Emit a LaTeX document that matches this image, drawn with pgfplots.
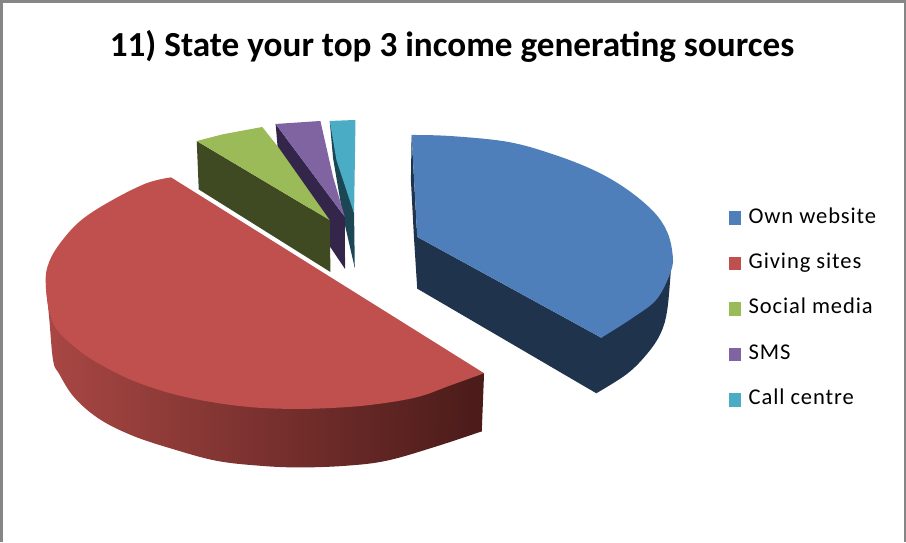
\documentclass[border=0pt]{standalone}
\usepackage{fontspec}
\setmainfont{Carlito}
\usepackage{pgfplots}
\pgfplotsset{compat=1.18}

\definecolor{ownTop}{HTML}{4E7FBB}
\definecolor{ownSide}{HTML}{1F344C}
\definecolor{givingTop}{HTML}{BF504D}
\definecolor{givingSideA}{HTML}{A94744}
\definecolor{givingSideB}{HTML}{6E2C2A}
\definecolor{givingSideC}{HTML}{4A1B19}
\definecolor{socialTop}{HTML}{9BBB59}
\definecolor{socialSide}{HTML}{3F4A23}
\definecolor{smsTop}{HTML}{8064A2}
\definecolor{smsSide}{HTML}{33264A}
\definecolor{callTop}{HTML}{4BACC6}
\definecolor{callSide}{HTML}{1C4654}
\definecolor{frameGrey}{HTML}{868686}

\pgfplotsset{giving wall/.style={forget plot, draw=none, left color=givingSideA,
  middle color=givingSideB, right color=givingSideC}}

\begin{document}
\begin{tikzpicture}
\begin{axis}[
  scale only axis, width=906bp, height=543bp,
  xmin=-1, xmax=905, ymin=-1.5, ymax=541.5, y dir=reverse,
  hide axis,
  every axis title shift=0pt,
  title={\fontsize{35.1bp}{40bp}\selectfont\bfseries 11) State your top 3 income generating sources},
  title style={at={(axis description cs:0.5,0.912)}, anchor=center, inner sep=0pt},
  legend image code/.code={\fill[#1] (0bp,-6.8bp) rectangle (12bp,6.8bp);},
  legend cell align=left,
  legend style={
    at={(axis cs:728,209)}, anchor=north west, draw=none, fill=none,
    inner sep=0pt, outer sep=0pt,
    row sep=27.3bp, column sep=8bp,
    nodes={inner sep=0pt, text height=14bp, text depth=4bp,
           font=\fontsize{22.5bp}{24bp}\selectfont\addfontfeatures{LetterSpace=4}},
  },
]

% Side walls of the slices
\addplot[forget plot, fill=ownSide, draw=none] coordinates {
  (411.7,135) (411,180) (414,236.7) (417.3,288.3) (596,392.7) (640,330) (672,255) (601,337.3) (417.3,236.7) (411.7,135)};
\addplot[forget plot, fill=ownSide, draw=none, smooth, tension=0.6] coordinates {
  (672,255) (670.7,266.7) (666.7,310) (660,333.3) (646.7,353.3) (626.7,373.3) (596,392.7)};
\addplot[giving wall, smooth, tension=0.6] coordinates {
  (46.7,285) (50,316.7) (54,360) (60,373.3) (75,396.7) (100,418.3) (133.3,435) (173.3,448.3)
  (216.7,460) (260,465) (300,466.7) (346.7,465) (386.7,460) (433.3,446.7) (481.7,430.7)};
\addplot[giving wall] coordinates {
  (46.7,285) (300,372) (440,425) (481.7,430.7) (484,372.7) (46.7,285)};
\addplot[forget plot, fill=callSide, draw=none] coordinates {
  (330,121) (333.3,158) (343.3,216.7) (355,267.7) (354.3,213.3) (330,121)};
\addplot[forget plot, fill=smsSide, draw=none] coordinates {
  (276,124) (278,147) (330,246) (345.3,268.7) (345,216.7) (276,124)};
\addplot[forget plot, fill=socialSide, draw=none] coordinates {
  (197.3,141) (199.3,189.3) (330.7,271.7) (330,220) (197.3,141)};

% Curved rim of the own-website top face
\addplot[forget plot, fill=ownTop, draw=none, smooth, tension=0.6] coordinates {
  (411.7,135) (450,136) (506.7,141.7) (550,153.3) (593.3,170) (626.7,189.3) (653.3,211.7)
  (666.7,231.7) (672,253.3) (670.7,270) (656.7,298.3) (633.3,316.7) (601,337.3)};

% Top faces, one for each source
\addplot[fill=ownTop, draw=none] coordinates {
  (411.7,135) (520,240) (601,337.3) (417.3,236.7) (411.7,135)};
\addlegendentry{Own website}
\addplot[fill=givingTop, draw=none, smooth, tension=0.6] coordinates {
  (171.7,177.3) (146.7,183.3) (110,201.7) (80,221.7) (58.3,246.7) (48.3,266.7) (46.7,285) (50,310)
  (58.3,330) (80,350) (100,363.3) (133.3,380) (173.3,393.3) (213.3,401.7) (253.3,406.7) (293.3,408.3)
  (333.3,407.3) (373.3,404) (416.7,396.7) (450,385) (484,372.7)};
\addlegendentry{Giving sites}
\addplot[fill=socialTop, draw=none] coordinates {
  (197.3,141) (223.3,134.3) (262.7,127) (278.3,146.7) (330,220) (197.3,141)};
\addlegendentry{Social media}
\addplot[fill=smsTop, draw=none] coordinates {
  (276,124) (320.7,121) (333.3,176.7) (345,216.7) (276,124)};
\addlegendentry{SMS}
\addplot[fill=callTop, draw=none] coordinates {
  (330,121) (355.7,120) (354.3,213.3) (336.7,160) (330,121)};
\addlegendentry{Call centre}

% Chart frame, open along the bottom
\draw[frameGrey, line width=2.6bp] (axis cs:2.3,541.5) -- (axis cs:2.3,1.6) -- (axis cs:904,1.6) -- (axis cs:904,541.5);
\end{axis}
\end{tikzpicture}
\end{document}
